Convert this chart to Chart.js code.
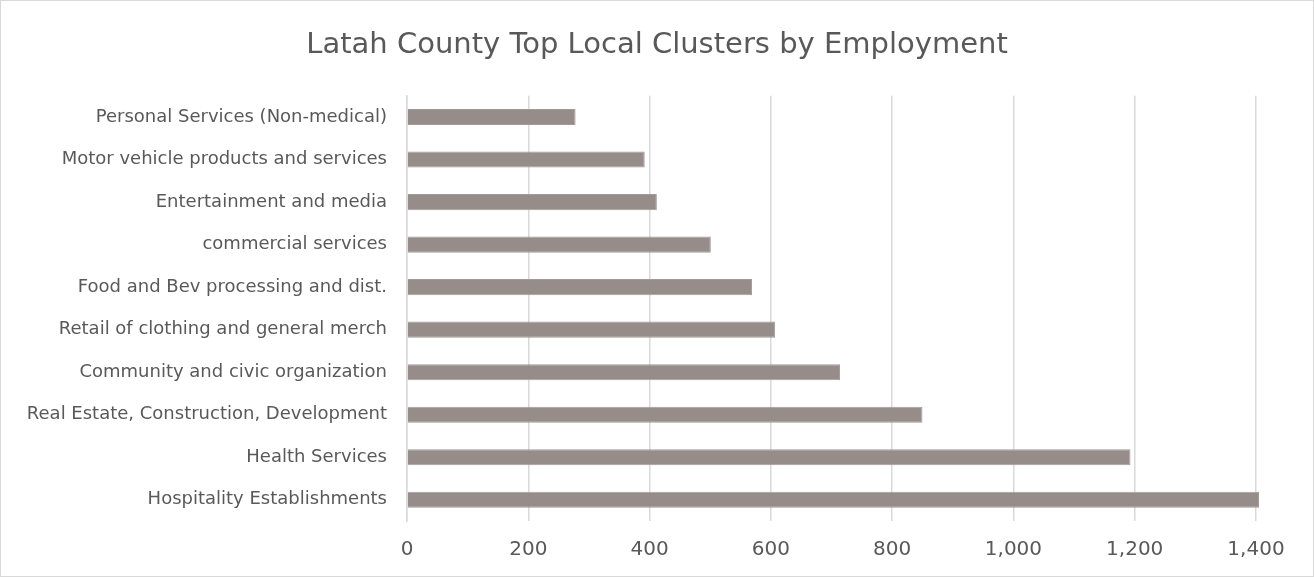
<!DOCTYPE html>
<html lang="en">
<head>
<meta charset="UTF-8">
<title>Latah County Top Local Clusters by Employment</title>
<script src="https://cdn.jsdelivr.net/npm/chart.js"></script>
<style>
  html, body { margin: 0; padding: 0; background: #fff; }
  #wrap { width: 1314px; height: 577px; box-sizing: border-box; border: 1px solid #d9d9d9; }
  canvas { display: block; }
</style>
</head>
<body>
<div id="wrap"><canvas id="clusters" width="1312" height="575"></canvas></div>
<script>
  // employment by local cluster, listed top to bottom
  const clusters = [
    'Personal Services (Non-medical)',
    'Motor vehicle products and services',
    'Entertainment and media',
    'commercial services',
    'Food and Bev processing and dist.',
    'Retail of clothing and general merch',
    'Community and civic organization',
    'Real Estate, Construction, Development',
    'Health Services',
    'Hospitality Establishments'
  ];
  const employment = [278, 392, 412, 501, 569, 607, 714, 850, 1193, 1405];
  const xTicks = [0, 200, 400, 600, 800, 1000, 1200, 1400];

  const fontFamily = '"DejaVu Sans", sans-serif';
  const textColor = '#595959';

  new Chart(document.getElementById('clusters'), {
    type: 'bar',
    data: {
      labels: clusters,
      datasets: [{
        data: employment,
        backgroundColor: '#968c8a',
        borderColor: '#a39a98',
        borderWidth: 1,
        borderSkipped: 'left',
        barPercentage: 0.54,
        categoryPercentage: 0.7,
        clip: false
      }]
    },
    options: {
      indexAxis: 'y',
      responsive: false,
      animation: false,
      layout: { padding: 0 },
      plugins: {
        legend: { display: false },
        tooltip: { enabled: false },
        title: {
          display: true,
          text: 'Latah County Top Local Clusters by Employment',
          color: textColor,
          font: { family: fontFamily, size: 29, weight: 'normal' },
          padding: { top: 27, bottom: 33 }
        }
      },
      scales: {
        x: {
          min: 0,
          max: 1400,
          afterBuildTicks: (scale) => { scale.ticks = xTicks.map(v => ({ value: v })); },
          afterFit: (scale) => {
            scale.height = 55;
            // keep room on the right like the original plot area
            scale.paddingRight = 57;
          },
          grid: { color: '#d9d9d9', lineWidth: 1.5, drawTicks: false },
          border: { display: false },
          ticks: {
            color: textColor,
            padding: 17,
            font: { family: fontFamily, size: 20 },
            callback: (v) => v.toLocaleString('en-US')
          }
        },
        y: {
          afterFit: (scale) => { scale.width = 406; },
          grid: { display: false, drawTicks: false },
          border: { display: true, color: '#d9d9d9', width: 1.5 },
          ticks: {
            color: textColor,
            padding: 20,
            font: { family: fontFamily, size: 18 }
          }
        }
      }
    }
  });
</script>
</body>
</html>
